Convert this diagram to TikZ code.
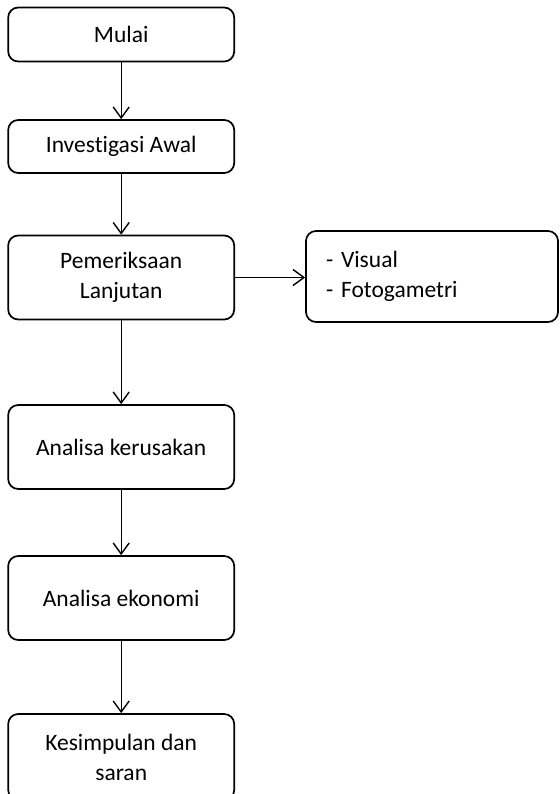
\documentclass[tikz,border=0pt]{standalone}
\usepackage{fontspec}
\setmainfont{Carlito}[Ligatures=NoCommon]
\usetikzlibrary{arrows.meta}
\begin{document}
\begin{tikzpicture}[x=1pt,y=-1pt,
  box/.style={draw, line width=1.7pt, rounded corners=10pt, minimum width=226pt, inner sep=0pt, align=center, font=\fontsize{23.5}{30}\selectfont},
  arr/.style={line width=1.4pt, -{Straight Barb[length=11pt,width=16pt,line width=1.4pt]}}]
\useasboundingbox (0,0) rectangle (559,794);
\node[box, minimum height=54pt] (mulai) at (121.2,34.5) {Mulai};
\node[box, minimum height=53pt] (inv) at (121.2,146.5) {Investigasi Awal};
\node[box, minimum height=84pt] (pem) at (121.2,277.5) {Pemeriksaan\\Lanjutan};
\node[box, minimum height=91pt, minimum width=252pt, text width=212pt, align=left, inner xsep=20pt] (vis) at (432,276.5) {-~Visual\\-~Fotogametri};
\node[box, minimum height=84pt] (ker) at (121.2,447) {Analisa kerusakan};
\node[box, minimum height=84pt] (eko) at (121.2,598) {Analisa ekonomi};
\node[box, minimum height=86pt] (kes) at (121.2,757) {Kesimpulan dan\\saran};
\draw[arr] (mulai) -- (inv);
\draw[arr] (inv) -- (pem);
\draw[arr] (pem.east) -- (vis.west |- pem.east);
\draw[arr] (pem) -- (ker);
\draw[arr] (ker) -- (eko);
\draw[arr] (eko) -- (kes);
\end{tikzpicture}
\end{document}
